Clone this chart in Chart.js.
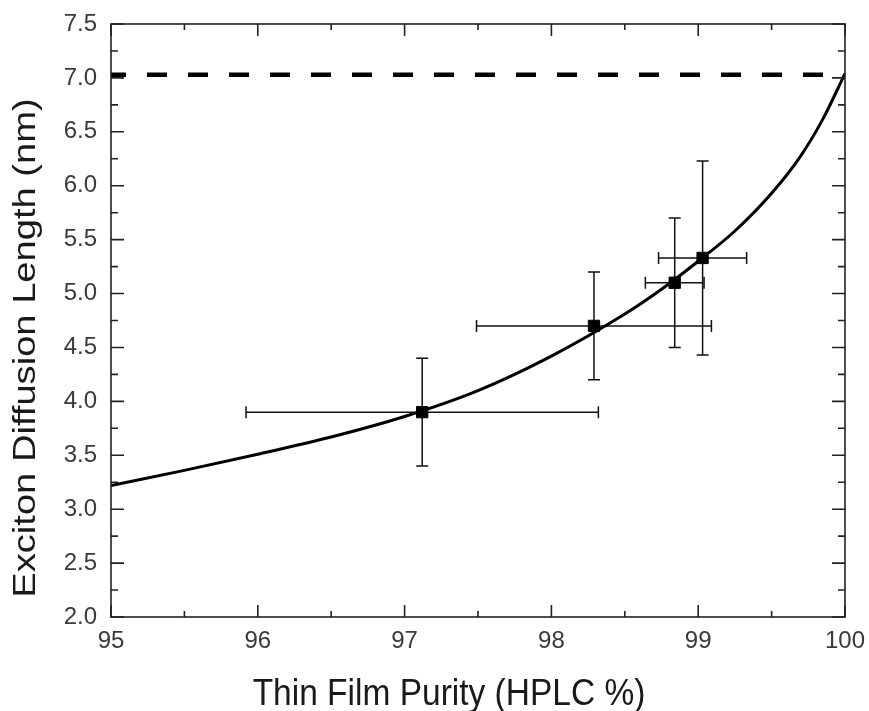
<!DOCTYPE html>
<html>
<head>
<meta charset="utf-8">
<script src="https://cdn.jsdelivr.net/npm/chart.js@4.4.1/dist/chart.umd.min.js"></script>
<style>
  html, body { margin: 0; padding: 0; background: #fff; }
  #wrap { width: 869px; height: 711px; }
</style>
</head>
<body>
<div id="wrap"><canvas id="c" width="869" height="711"></canvas></div>
<script>
// ---- data ----
const pointX    = [97.12, 98.29, 98.84, 99.03];
const pointY    = [3.90, 4.70, 5.10, 5.33];
const pointXErr = [1.20, 0.80, 0.20, 0.30];
const pointYErr = [0.50, 0.50, 0.60, 0.90];

const fitX = [95, 95.5, 96, 96.5, 97, 97.5, 98, 98.5, 98.75, 99, 99.25, 99.5, 99.7, 99.85, 100];
const fitY = [3.22, 3.36, 3.51, 3.67, 3.86, 4.10, 4.42, 4.81, 5.04, 5.30, 5.58, 5.93, 6.28, 6.62, 7.04];

const limitX = [95, 100];
const limitY = [7.03, 7.03];

const xTicks = [95, 96, 97, 98, 99, 100];
const yTicks = [2.0, 2.5, 3.0, 3.5, 4.0, 4.5, 5.0, 5.5, 6.0, 6.5, 7.0, 7.5];

const xTitle = 'Thin Film Purity (HPLC %)';
const yTitle = 'Exciton Diffusion Length (nm)';

const pts = pointX.map((x, i) => ({ x, y: pointY[i], xe: pointXErr[i], ye: pointYErr[i] }));
const fit = fitX.map((x, i) => ({ x, y: fitY[i] }));
const lim = limitX.map((x, i) => ({ x, y: limitY[i] }));

const AXIS = '#222';

const errorBars = {
  id: 'errorBars',
  beforeDatasetsDraw(chart) {
    const { ctx, scales: { x, y } } = chart;
    ctx.save();
    ctx.strokeStyle = '#111';
    ctx.lineWidth = 1.5;
    const cap = 6;
    pts.forEach(p => {
      const cx = x.getPixelForValue(p.x), cy = y.getPixelForValue(p.y);
      const x0 = x.getPixelForValue(p.x - p.xe), x1 = x.getPixelForValue(p.x + p.xe);
      const y0 = y.getPixelForValue(p.y - p.ye), y1 = y.getPixelForValue(p.y + p.ye);
      ctx.beginPath();
      ctx.moveTo(x0, cy); ctx.lineTo(x1, cy);
      ctx.moveTo(x0, cy - cap); ctx.lineTo(x0, cy + cap);
      ctx.moveTo(x1, cy - cap); ctx.lineTo(x1, cy + cap);
      ctx.moveTo(cx, y0); ctx.lineTo(cx, y1);
      ctx.moveTo(cx - cap, y0); ctx.lineTo(cx + cap, y0);
      ctx.moveTo(cx - cap, y1); ctx.lineTo(cx + cap, y1);
      ctx.stroke();
    });
    ctx.restore();
  }
};

const frame = {
  id: 'frame',
  afterDraw(chart) {
    const { ctx, chartArea: a, scales: { x, y } } = chart;
    ctx.save();
    ctx.strokeStyle = AXIS;
    ctx.lineWidth = 1.6;
    ctx.strokeRect(a.left, a.top, a.right - a.left, a.bottom - a.top);
    ctx.beginPath();
    for (let v = 95; v <= 100.001; v += 0.5) {
      const px = x.getPixelForValue(v);
      const major = Math.abs(v - Math.round(v)) < 1e-6;
      const L = major ? 12 : 6;
      ctx.moveTo(px, a.bottom); ctx.lineTo(px, a.bottom - L);
      ctx.moveTo(px, a.top); ctx.lineTo(px, a.top + L);
    }
    for (let v = 2; v <= 7.5001; v += 0.25) {
      const py = y.getPixelForValue(v);
      const major = Math.abs(v * 2 - Math.round(v * 2)) < 1e-6;
      const L = major ? 13 : 7;
      ctx.moveTo(a.left, py); ctx.lineTo(a.left + L, py);
      ctx.moveTo(a.right, py); ctx.lineTo(a.right - L, py);
    }
    ctx.stroke();

    // axis titles
    ctx.fillStyle = '#1a1a1a';
    ctx.textAlign = 'center';
    ctx.textBaseline = 'alphabetic';
    ctx.save();
    ctx.translate(449, 705);
    ctx.scale(1, 1.12);
    ctx.font = '33.5px "Liberation Sans", Arial, sans-serif';
    ctx.fillText(xTitle, 0, 0);
    ctx.restore();

    ctx.save();
    ctx.translate(35, 348);
    ctx.scale(1, 1.23);
    ctx.rotate(-Math.PI / 2);
    ctx.font = '31px "Liberation Sans", Arial, sans-serif';
    ctx.fillText(yTitle, 0, 0);
    ctx.restore();
    ctx.restore();
  }
};

new Chart(document.getElementById('c'), {
  type: 'scatter',
  data: {
    datasets: [
      {
        label: 'Limit',
        data: lim,
        showLine: true,
        borderColor: '#000',
        borderWidth: 4.5,
        borderDash: [20, 21],
        borderDashOffset: 5,
        pointRadius: 0,
        order: 3
      },
      {
        label: 'Fit',
        data: fit,
        showLine: true,
        borderColor: '#000',
        borderWidth: 3,
        cubicInterpolationMode: 'monotone',
        pointRadius: 0,
        order: 2
      },
      {
        label: 'Data',
        data: pts,
        pointStyle: 'rect',
        pointRadius: 8,
        backgroundColor: '#000',
        borderColor: '#000',
        borderWidth: 1,
        order: 1
      }
    ]
  },
  options: {
    responsive: false,
    animation: false,
    events: [],
    layout: { padding: { left: 0, top: 24, right: 24, bottom: 0 } },
    plugins: { legend: { display: false }, tooltip: { enabled: false } },
    scales: {
      x: {
        type: 'linear',
        min: 95, max: 100,
        afterBuildTicks: s => { s.ticks = xTicks.map(v => ({ value: v })); },
        afterFit: s => { s.height = 94; s.paddingLeft = 0; s.paddingRight = 0; },
        grid: { display: false, drawTicks: false },
        border: { display: false },
        ticks: {
          padding: 10,
          color: '#3a3a3a',
          font: { family: '"Liberation Sans", Arial, sans-serif', size: 24 },
          callback: v => String(v)
        },
        title: { display: false, text: xTitle }
      },
      y: {
        type: 'linear',
        min: 2, max: 7.5,
        afterBuildTicks: s => { s.ticks = yTicks.map(v => ({ value: v })); },
        afterFit: s => { s.width = 111; s.paddingTop = 0; s.paddingBottom = 0; },
        grid: { display: false, drawTicks: false },
        border: { display: false },
        ticks: {
          padding: 14,
          color: '#3a3a3a',
          font: { family: '"Liberation Sans", Arial, sans-serif', size: 24 },
          callback: v => Number(v).toFixed(1)
        },
        title: { display: false, text: yTitle }
      }
    }
  },
  plugins: [errorBars, frame]
});
</script>
</body>
</html>
